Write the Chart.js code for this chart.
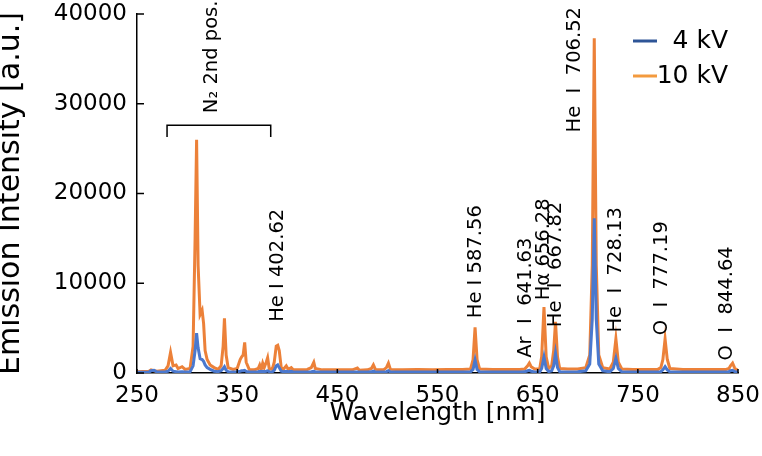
<!DOCTYPE html>
<html>
<head>
<meta charset="utf-8">
<script src="https://cdn.jsdelivr.net/npm/chart.js@4/dist/chart.umd.min.js"></script>
<style>
  html, body { margin: 0; padding: 0; background: #fff; }
  #wrap { width: 762px; height: 456px; position: relative; }
</style>
</head>
<body>
<div id="wrap"><canvas id="spectrum"></canvas></div>
<script>
// wavelength [nm] and intensities
const wavelength = [250, 262, 264, 267, 270, 278, 281, 283.5, 286, 289, 291, 295, 298, 303, 306, 308, 309.5, 311, 313, 315, 316.5, 318, 320, 323, 327, 331, 334, 336, 337.3, 339, 341, 346, 350, 353, 354.5, 356, 357.5, 359, 362, 367, 371, 372.5, 374, 375.5, 377, 379, 380.4, 382, 385, 387, 389, 390.5, 392, 394, 396, 399, 401, 404, 406, 413, 420, 424, 426.5, 428, 435, 445, 455, 465, 470, 472, 480, 484, 486, 488, 496, 499, 501, 503, 515, 530, 545, 560, 575, 583, 585.5, 587.5, 589.5, 592, 605, 620, 632, 637, 640, 641.7, 643.5, 647, 652, 654, 656.3, 658.5, 661, 664, 666, 667.8, 669.8, 672, 680, 690, 698, 702, 704.5, 706.5, 708.5, 711, 715, 722, 725.5, 728.1, 730.5, 734, 745, 760, 770, 773, 775, 777.2, 779.4, 782, 795, 810, 825, 838, 841, 842.5, 844.6, 846.5, 848, 850];
const int10kV = [150, 200, 350, 250, 200, 300, 800, 2300, 800, 900, 500, 700, 400, 500, 3000, 15000, 26000, 12000, 6500, 7000, 5500, 2500, 1500, 900, 600, 400, 800, 3000, 6100, 2000, 600, 400, 500, 1500, 1800, 2000, 3400, 1200, 400, 350, 500, 900, 400, 1100, 600, 1200, 1700, 500, 400, 1200, 3000, 3100, 2500, 600, 400, 800, 400, 600, 350, 350, 400, 600, 1200, 500, 350, 350, 350, 350, 550, 300, 350, 500, 900, 400, 350, 600, 1100, 400, 350, 400, 350, 400, 400, 450, 1500, 5100, 1500, 450, 400, 400, 400, 450, 800, 1100, 700, 450, 450, 1800, 7350, 1800, 500, 800, 2500, 5700, 1800, 500, 450, 450, 600, 2000, 12000, 37300, 12000, 2000, 600, 450, 1200, 3800, 1200, 450, 400, 400, 400, 600, 1500, 3800, 1500, 500, 400, 400, 400, 400, 500, 800, 1100, 600, 400, 350];
const int4kV = [80, 100, 250, 300, 100, 120, 200, 500, 200, 150, 120, 150, 120, 150, 800, 2500, 4450, 2800, 1600, 1500, 1300, 900, 600, 400, 200, 150, 250, 500, 700, 300, 150, 120, 150, 200, 250, 250, 300, 180, 120, 120, 150, 200, 150, 200, 150, 200, 250, 150, 120, 300, 800, 900, 600, 200, 150, 200, 150, 180, 120, 120, 120, 150, 200, 150, 120, 110, 110, 110, 120, 110, 110, 130, 200, 120, 110, 150, 250, 120, 110, 110, 110, 110, 110, 130, 400, 1450, 400, 130, 110, 110, 110, 130, 250, 300, 200, 120, 130, 500, 1800, 500, 150, 250, 800, 2200, 600, 150, 120, 130, 250, 1000, 6000, 17250, 6000, 1000, 250, 130, 500, 1650, 500, 130, 110, 110, 110, 150, 350, 700, 350, 130, 110, 110, 110, 110, 150, 250, 300, 180, 120, 110];

const seriesNames = ['4 kV', '10 kV'];
const yTicks = [0, 10000, 20000, 30000, 40000];
const xTicks = [250, 350, 450, 550, 650, 750, 850];

// line identifications written above the peaks
const lineLabels = ['He I 402.62', 'He I 587.56', 'Ar  I  641.63', 'H\u03b1 656.28', 'He  I  667.82', 'He  I  706.52', 'He  I  728.13', 'O  I  777.19', 'O  I  844.64'];
const labelWl = [391, 588.5, 638.5, 656.5, 668, 687, 728, 774, 839];
const labelBase = [5700, 6100, 1700, 8100, 5100, 26800, 4500, 4200, 1400];

const blue = '#4A78CE';
const orange = '#EC8139';
const fontFam = '"DejaVu Sans", sans-serif';

const decorations = {
  id: 'decorations',
  afterDraw(chart) {
    const ctx = chart.ctx;
    const xs = chart.scales.x, ys = chart.scales.y;
    const area = chart.chartArea;
    ctx.save();
    ctx.strokeStyle = '#000';
    ctx.lineWidth = 1.5;
    // inward tick marks
    yTicks.forEach(v => {
      const py = ys.getPixelForValue(v);
      ctx.beginPath(); ctx.moveTo(area.left, py); ctx.lineTo(area.left + 7, py); ctx.stroke();
    });
    xTicks.forEach(v => {
      const px = xs.getPixelForValue(v);
      ctx.beginPath(); ctx.moveTo(px, area.bottom); ctx.lineTo(px, area.bottom - 4); ctx.stroke();
    });

    // N2 second positive system bracket
    const bl = xs.getPixelForValue(280), br = xs.getPixelForValue(383.5);
    const bt = ys.getPixelForValue(27600), bb = ys.getPixelForValue(26300);
    ctx.beginPath();
    ctx.moveTo(bl, bb); ctx.lineTo(bl, bt); ctx.lineTo(br, bt); ctx.lineTo(br, bb);
    ctx.stroke();

    // rotated labels
    ctx.fillStyle = '#000';
    ctx.textAlign = 'left';
    ctx.textBaseline = 'middle';
    const drawUp = (txt, px, py, size) => {
      ctx.save();
      ctx.translate(px, py);
      ctx.rotate(-Math.PI / 2);
      ctx.font = size + 'px ' + fontFam;
      ctx.fillText(txt, 0, 0);
      ctx.restore();
    };
    drawUp('N\u2082 2nd pos.', xs.getPixelForValue(324.5), ys.getPixelForValue(28950), 19.5);
    lineLabels.forEach((t, i) => {
      drawUp(t, xs.getPixelForValue(labelWl[i]), ys.getPixelForValue(labelBase[i]), 19.5);
    });

    // legend
    const legendColors = ['#2E5597', '#F39A3E'];
    ctx.font = '25px ' + fontFam;
    ctx.textAlign = 'right';
    seriesNames.forEach((name, i) => {
      const ly = 41 + i * 35;
      ctx.strokeStyle = legendColors[i];
      ctx.lineWidth = 3;
      ctx.beginPath(); ctx.moveTo(633, ly); ctx.lineTo(657, ly); ctx.stroke();
      ctx.fillText(name, 728, ly);
    });
    ctx.restore();
  }
};

new Chart(document.getElementById('spectrum'), {
  type: 'line',
  data: {
    datasets: [
      {
        label: seriesNames[0],
        data: wavelength.map((w, i) => ({ x: w, y: int4kV[i] })),
        borderColor: blue,
        borderWidth: 3,
        pointRadius: 0,
        tension: 0
      },
      {
        label: seriesNames[1],
        data: wavelength.map((w, i) => ({ x: w, y: int10kV[i] })),
        borderColor: orange,
        borderWidth: 3,
        pointRadius: 0,
        tension: 0
      }
    ]
  },
  options: {
    responsive: true,
    maintainAspectRatio: false,
    animation: false,
    layout: { padding: { top: 14, right: 24, left: 0, bottom: 0 } },
    plugins: {
      legend: { display: false },
      tooltip: { enabled: false }
    },
    scales: {
      x: {
        type: 'linear',
        min: 250,
        max: 850,
        afterBuildTicks: s => { s.ticks = xTicks.map(v => ({ value: v })); },
        grid: { display: false, drawTicks: false, tickLength: 0 },
        border: { display: true, color: '#000', width: 1.5 },
        ticks: { color: '#000', font: { family: fontFam, size: 23 }, padding: 9, maxRotation: 0, callback: v => String(v) },
        title: { display: true, text: 'Wavelength [nm]', color: '#000', font: { family: fontFam, size: 25 }, padding: { top: 0, bottom: 28 } },
        afterFit: s => { s.height = 83; s.paddingLeft = 0; s.paddingRight = 0; }
      },
      y: {
        min: 0,
        max: 40000,
        afterBuildTicks: s => { s.ticks = yTicks.map(v => ({ value: v })); },
        grid: { display: false, drawTicks: false, tickLength: 0 },
        border: { display: true, color: '#000', width: 1.5 },
        ticks: { color: '#000', font: { family: fontFam, size: 23 }, padding: 10, callback: v => String(v) },
        title: { display: true, text: 'Emission Intensity [a.u.]', color: '#000', font: { family: fontFam, size: 30, lineHeight: 1 }, padding: { top: -4, bottom: 0 } },
        afterFit: s => { s.width = 137; s.paddingTop = 0; s.paddingBottom = 0; }
      }
    }
  },
  plugins: [decorations]
});
</script>
</body>
</html>
